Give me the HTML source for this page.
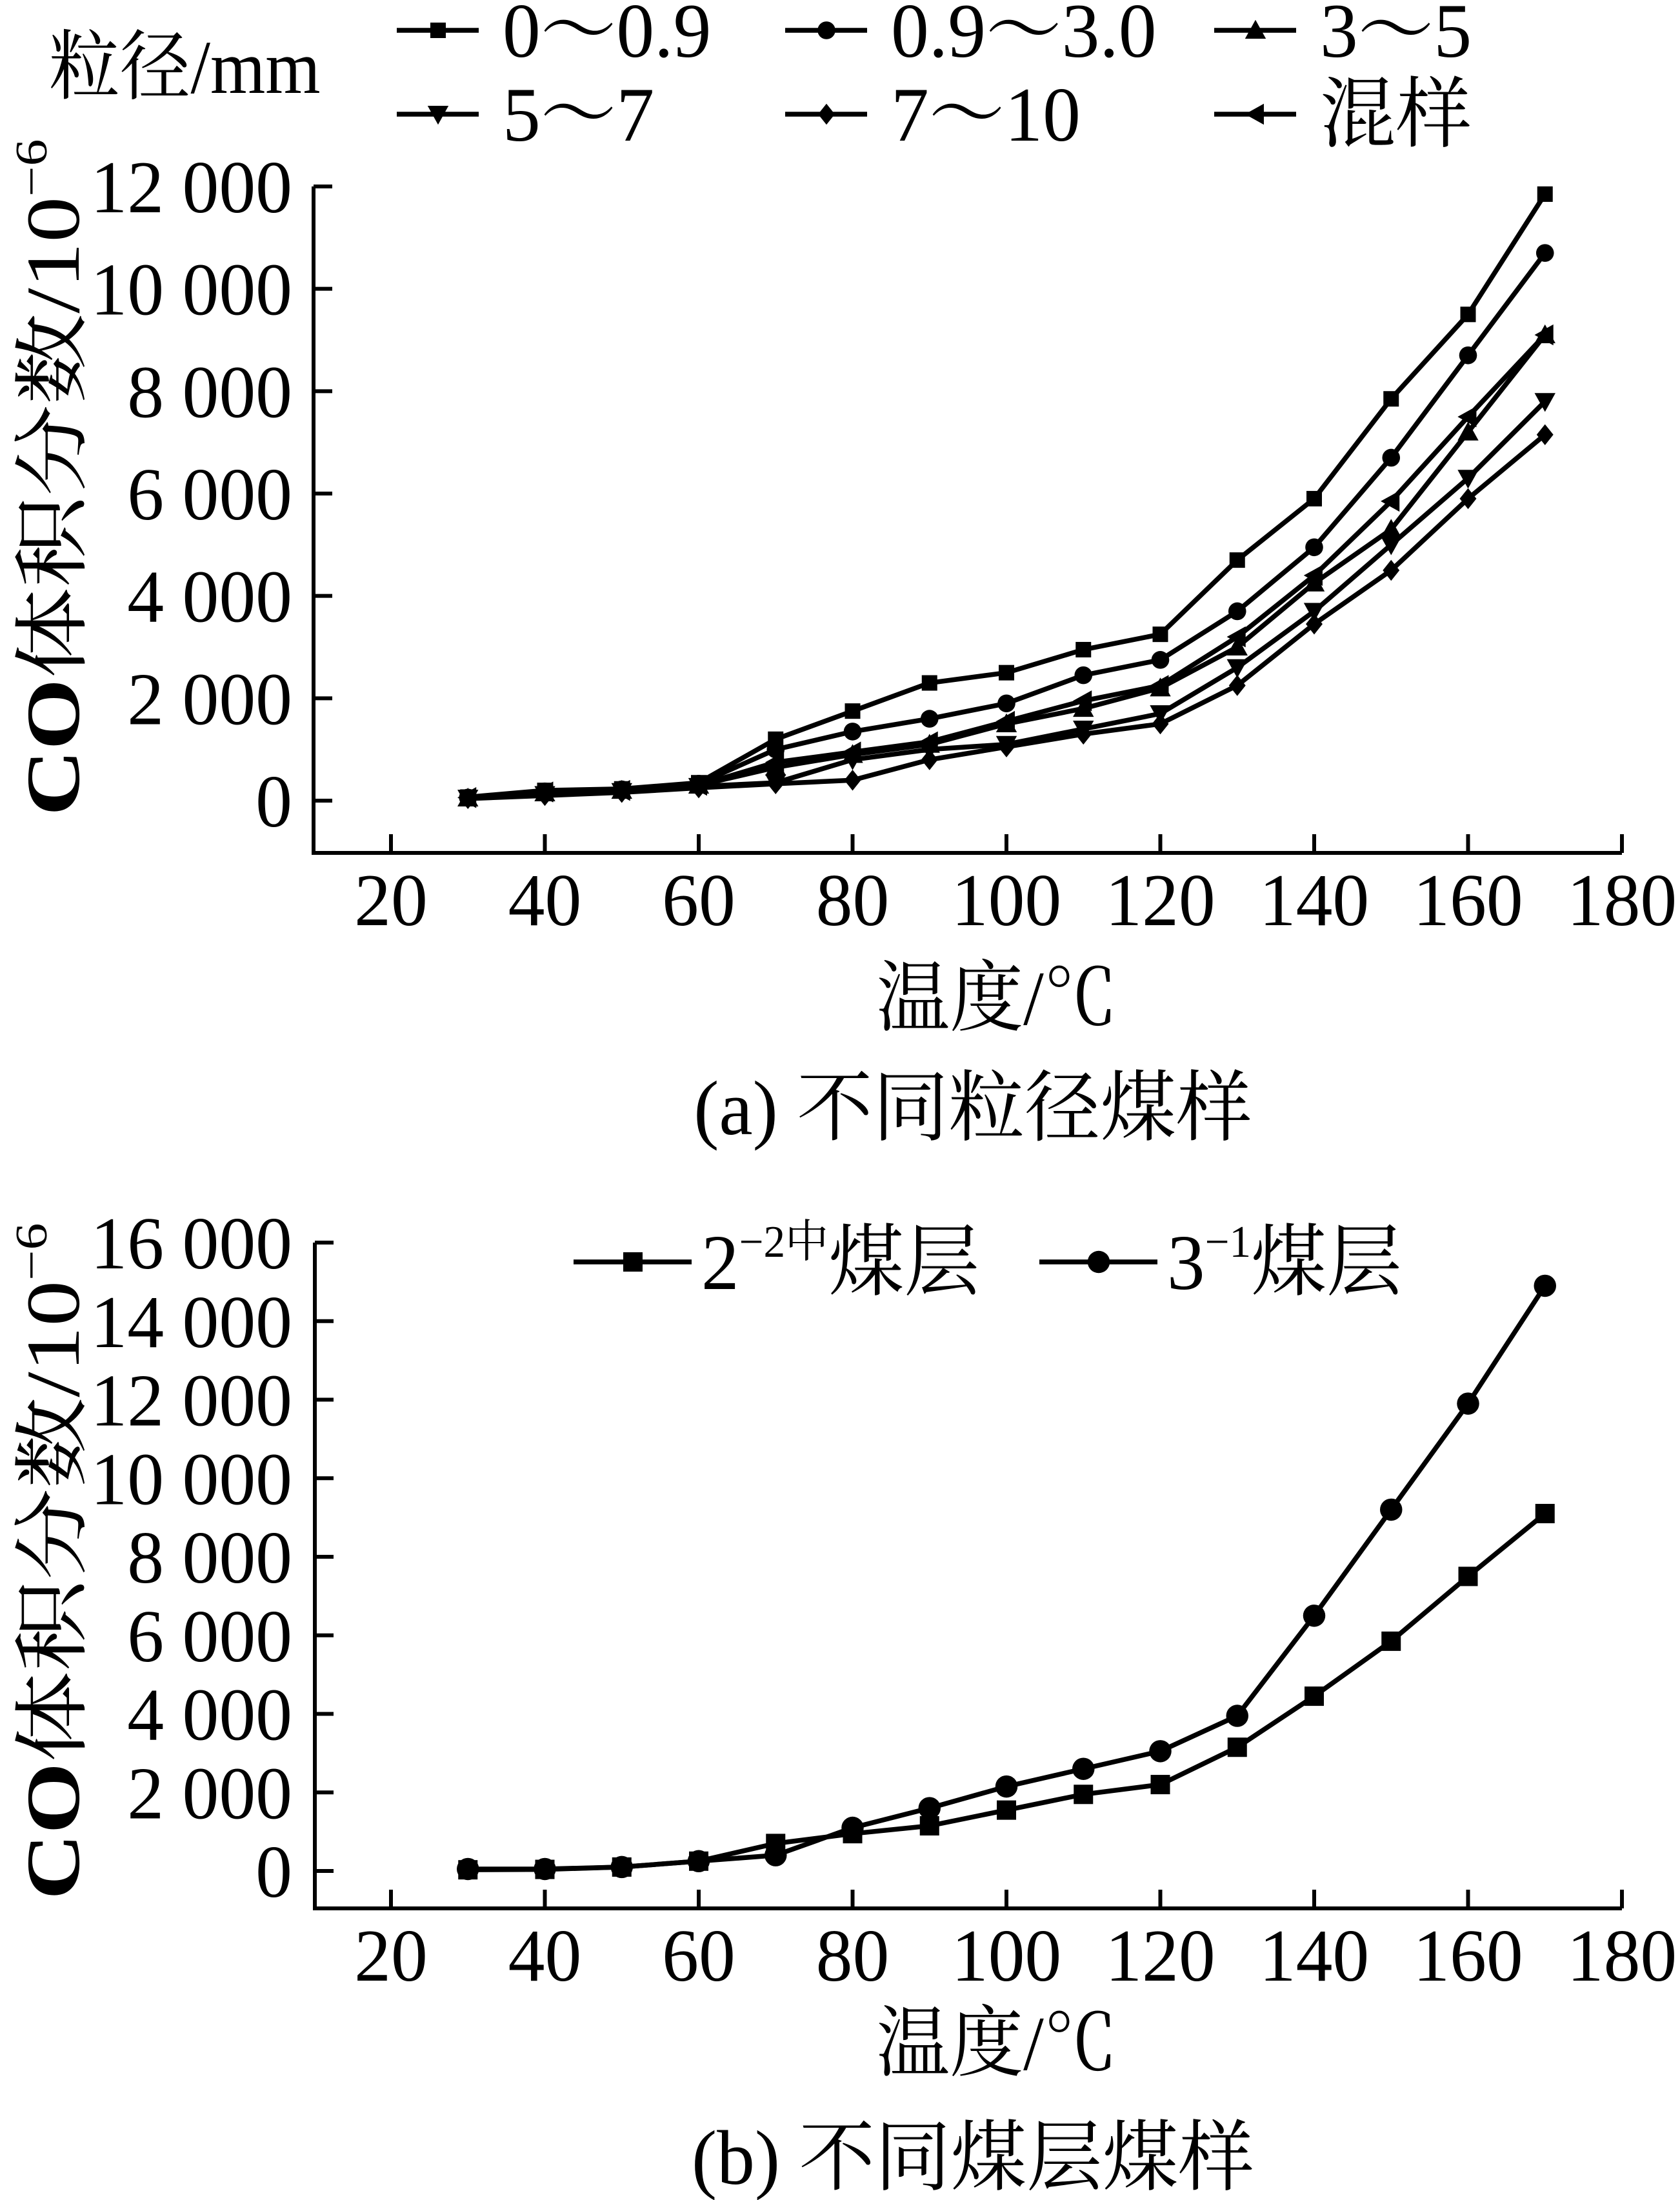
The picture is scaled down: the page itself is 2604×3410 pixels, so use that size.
<!DOCTYPE html>
<html><head><meta charset="utf-8"><style>
html,body{margin:0;padding:0;background:#fff}
svg{display:block}
text{font-family:"Liberation Serif","Noto Serif CJK SC","Noto Sans CJK SC",serif;fill:#000}
</style></head><body>
<svg id="fig" width="2604" height="3410" viewBox="0 0 2604 3410" xmlns="http://www.w3.org/2000/svg"></svg>
<script>
const xTemps=[30,40,50,60,70,80,90,100,110,120,130,140,150,160,170];
const xTicks=[20,40,60,80,100,120,140,160,180];
const aTicks=[0,2000,4000,6000,8000,10000,12000];
const aTickLabels=["0","2 000","4 000","6 000","8 000","10 000","12 000"];
const bTicks=[0,2000,4000,6000,8000,10000,12000,14000,16000];
const bTickLabels=["0","2 000","4 000","6 000","8 000","10 000","12 000","14 000","16 000"];
const aNames=["0～0.9","0.9～3.0","3～5","5～7","7～10","混样"];
const aMarkers=["square","circle","up","down","diamond","left"];
const s1=[70,200,230,350,1200,1750,2300,2500,2950,3250,4700,5900,7850,9500,11850];
const s2=[60,180,220,330,1000,1350,1600,1900,2450,2750,3700,4950,6700,8700,10700];
const s3=[50,150,200,300,650,900,1100,1500,1800,2200,3000,4250,5300,7200,9100];
const s4=[50,120,180,280,350,800,1000,1100,1400,1700,2600,3700,5000,6300,7800];
const s5=[40,100,160,250,330,400,800,1050,1300,1500,2250,3450,4500,5900,7150];
const s6=[60,170,200,300,750,950,1150,1550,1950,2250,3200,4400,5850,7500,9100];
const b1=[30,40,100,250,700,950,1150,1550,1950,2200,3150,4450,5850,7500,9100];
const b2=[50,50,100,250,400,1100,1600,2150,2600,3050,3950,6500,9200,11900,14900];

const svg=document.getElementById('fig');
const NS="http://www.w3.org/2000/svg";
function mk(tag,attrs,parent){const e=document.createElementNS(NS,tag);for(const k in attrs)e.setAttribute(k,attrs[k]);(parent||svg).appendChild(e);return e;}
function txt(str,x,y,size,anchor,sx,parent){const t=mk('text',{x:0,y:0,'font-size':size,'text-anchor':anchor,transform:`translate(${x},${y}) scale(${sx},1)`},parent);t.textContent=str;return t;}
function marker(type,x,y,r,g){
  if(type==='square')return mk('rect',{x:x-r,y:y-r,width:2*r,height:2*r,fill:'#000'},g);
  if(type==='circle')return mk('circle',{cx:x,cy:y,r:r*1.15,fill:'#000'},g);
  let p;const R=r*1.35;
  if(type==='up')p=[[x,y-R],[x+R,y+R*0.8],[x-R,y+R*0.8]];
  if(type==='down')p=[[x,y+R],[x+R,y-R*0.8],[x-R,y-R*0.8]];
  if(type==='diamond')p=[[x,y-R],[x+R*0.8,y],[x,y+R],[x-R*0.8,y]];
  if(type==='left')p=[[x-R,y],[x+R*0.8,y-R],[x+R*0.8,y+R]];
  return mk('polygon',{points:p.map(q=>q.join(',')).join(' '),fill:'#000'},g);
}
function panel(cfg){
  const g=mk('g',{});
  
  
  const X=v=>cfg.x0+(v-20)/(160)*(cfg.x1-cfg.x0);
  const Y=v=>cfg.y0-(v)/cfg.ymax*(cfg.y0-cfg.yTop);
  const ax=mk('path',{d:`M${cfg.axL},${Y(cfg.ymax)} L${cfg.axL},${cfg.axB} L${X(180)},${cfg.axB}`,fill:'none',stroke:'#000','stroke-width':6},g);
  
  
  cfg.yt.forEach((v,i)=>{
    mk('line',{x1:cfg.axL,x2:cfg.axL+29,y1:Y(v),y2:Y(v),stroke:'#000','stroke-width':6},g);
    const t=txt(cfg.ytl[i],453,Y(v)+40,116,'end',0.98,g);
    
    
  });
  xTicks.forEach(v=>{
    mk('line',{x1:X(v),x2:X(v),y1:cfg.axB,y2:cfg.axB-29,stroke:'#000','stroke-width':6},g);
    const t=txt(String(v),X(v),cfg.axB+112,116,'middle',0.98,g);
    
    
  });
  cfg.series.forEach((s,si)=>{
    const sg=mk('g',{},g);
    
    
    mk('polyline',{points:xTemps.map((t,i)=>X(t)+','+Y(s[i])).join(' '),fill:'none',stroke:'#000','stroke-width':7.5,'stroke-linejoin':'round'},sg);
    xTemps.forEach((t,i)=>marker(cfg.markers[si],X(t),Y(s[i]),cfg.mr,sg));
  });
  const xt=txt('温度/℃',1545,cfg.xtitleY,120,'middle',0.95,g);
  
  
  const yt=mk('text',{x:0,y:0,'font-size':118,'text-anchor':'middle',transform:`translate(122,${cfg.ytitleY}) rotate(-90) scale(1.2,1)`},g);
  
  
  yt.innerHTML='<tspan font-weight="bold">CO</tspan>体积分数/10<tspan font-size="70" dy="-50">−6</tspan>';
  const cap=txt(cfg.caption,1508,cfg.capY,120,'middle',0.98,g);
  
  
  return g;
}
panel({name:'chart-a',x0:606,x1:2514,y0:1241,yTop:289,ymax:12000,axL:486,axB:1322,yt:aTicks,ytl:aTickLabels,
  series:[s1,s2,s3,s4,s5,s6],markers:aMarkers,mr:12,xtitleY:1588,ytitleY:740,caption:'(a)  不同粒径煤样',capY:1758});
panel({name:'chart-b',x0:606,x1:2514,y0:2900,yTop:1926,ymax:16000,axL:488,axB:2958,yt:bTicks,ytl:bTickLabels,
  series:[b1,b2],markers:['square','circle'],mr:15,xtitleY:3208,ytitleY:2420,caption:'(b)  不同煤层煤样',capY:3385});

// legend a
const lg=mk('g',{});


const lt=txt('粒径/mm',76,144,118,'start',0.93,lg);


const colX=[615,1217,1882];const rowY=[47,177];
aNames.forEach((n,i)=>{
  const cx=colX[i%3],cy=rowY[Math.floor(i/3)];
  const e=mk('g',{},lg);
  
  
  mk('line',{x1:cx,x2:cx+127,y1:cy,y2:cy,stroke:'#000','stroke-width':7.5},e);
  marker(aMarkers[i],cx+64,cy,12,e);
  txt(n,cx+164,cy+41,120,'start',0.98,e);
});
// legend b
const lb=mk('g',{});


[[889,'square','2','−2中'],[1611,'circle','3','−1']].forEach(d=>{
  const e=mk('g',{},lb);
  
  
  mk('line',{x1:d[0],x2:d[0]+183,y1:1956,y2:1956,stroke:'#000','stroke-width':7.5},e);
  marker(d[1],d[0]+92,1956,15,e);
  const t=mk('text',{x:0,y:0,'font-size':122,transform:`translate(${d[0]+198},1998) scale(0.96,1)`},e);
  t.innerHTML=d[2]+'<tspan font-size="70" dy="-50">'+d[3]+'</tspan><tspan dy="50">煤层</tspan>';
});
</script>
</body></html>
